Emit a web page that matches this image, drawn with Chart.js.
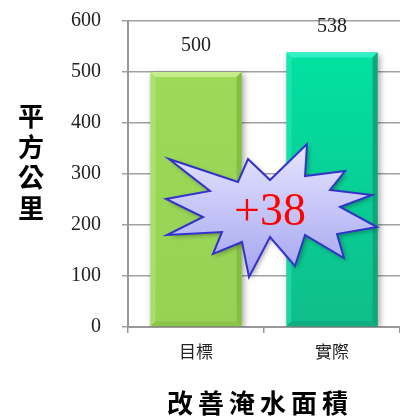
<!DOCTYPE html>
<html>
<head>
<meta charset="utf-8">
<script src="https://cdn.jsdelivr.net/npm/chart.js@4.4.1/dist/chart.umd.min.js"></script>
<style>
  html, body { margin: 0; padding: 0; background: #fff; overflow: hidden; }
  #wrap { width: 400px; height: 429px; margin-top: -12px; }
</style>
</head>
<body>
<div id="wrap"><canvas id="chart"></canvas></div>
<script>
// data
const categories = ['目標', '實際'];
const areaValues = [500, 538];
const yTicks = [0, 100, 200, 300, 400, 500, 600];
const yTitle = ['平', '方', '公', '里'];
const xTitle = '改善淹水面積';
const diffLabel = '+38';

const barColors = [
    { top: '#c4ec8a', mid: '#9edb5a', bottom: '#96d355', edge: '#85bd45' },
    { top: '#30f0c4', mid: '#00e6a4', bottom: '#0fbd8a', edge: '#10a57a' }
];

// explosion shape, offsets from its centre
const starPts = [
    [-101, -52], [-32, -29], [-22, -52], [0, -31], [37, -67], [35, -35],
    [75, -40], [60, -21], [102, -16], [70, -4], [107, 16], [67, 23],
    [74, 47], [35, 24], [25, 55], [0, 26], [-21, 66], [-28, 31],
    [-57, 43], [-48, 21], [-103, 24], [-67, 6], [-104, -12], [-60, -20]
];

const serif = '"Liberation Serif", "DejaVu Serif", serif';
const cjk = '"Noto Sans CJK TC", "Noto Sans CJK SC", sans-serif';

const shadowPlugin = {
    id: 'barShadow',
    beforeDatasetsDraw(chart) {
        const ctx = chart.ctx;
        ctx.save();
        ctx.shadowColor = 'rgba(0,0,0,0.35)';
        ctx.shadowBlur = 6;
        ctx.shadowOffsetX = 2;
        ctx.shadowOffsetY = 2;
    },
    afterDatasetsDraw(chart) {
        const ctx = chart.ctx;
        ctx.restore();
        // bevel highlights on each bar
        const meta = chart.getDatasetMeta(0);
        meta.data.forEach(function (bar, i) {
            const c = barColors[i];
            const left = bar.x - bar.width / 2;
            const right = bar.x + bar.width / 2;
            const top = bar.y;
            const bottom = bar.base;
            const b = 5;
            ctx.save();
            // top bevel
            ctx.fillStyle = c.top;
            ctx.beginPath();
            ctx.moveTo(left, top);
            ctx.lineTo(right, top);
            ctx.lineTo(right - b, top + b);
            ctx.lineTo(left + b, top + b);
            ctx.closePath();
            ctx.fill();
            // right bevel
            ctx.fillStyle = c.edge;
            ctx.beginPath();
            ctx.moveTo(right, top);
            ctx.lineTo(right, bottom);
            ctx.lineTo(right - b, bottom - b);
            ctx.lineTo(right - b, top + b);
            ctx.closePath();
            ctx.fill();
            // left bevel
            ctx.globalAlpha = 0.45;
            ctx.fillStyle = c.top;
            ctx.beginPath();
            ctx.moveTo(left, top);
            ctx.lineTo(left + b, top + b);
            ctx.lineTo(left + b, bottom - b);
            ctx.lineTo(left, bottom);
            ctx.closePath();
            ctx.fill();
            // bottom bevel
            ctx.globalAlpha = 0.6;
            ctx.fillStyle = c.edge;
            ctx.beginPath();
            ctx.moveTo(left, bottom);
            ctx.lineTo(left + b, bottom - b);
            ctx.lineTo(right - b, bottom - b);
            ctx.lineTo(right, bottom);
            ctx.closePath();
            ctx.fill();
            ctx.restore();

            // value label
            ctx.save();
            ctx.font = '20px ' + serif;
            ctx.fillStyle = '#222';
            ctx.textAlign = 'center';
            ctx.textBaseline = 'middle';
            ctx.fillText(String(areaValues[i]), bar.x, bar.y - 26);
            ctx.restore();
        });
    },
    afterDraw(chart) {
        const ctx = chart.ctx;
        const area = chart.chartArea;
        // explosion callout
        const cx = area.left + 142;
        const cy = area.top + 190;
        ctx.save();
        ctx.beginPath();
        starPts.forEach(function (p, k) {
            if (k === 0) ctx.moveTo(cx + p[0], cy + p[1]);
            else ctx.lineTo(cx + p[0], cy + p[1]);
        });
        ctx.closePath();
        const g = ctx.createLinearGradient(0, cy - 67, 0, cy + 66);
        g.addColorStop(0, '#e6e6ff');
        g.addColorStop(1, '#a4a4f0');
        ctx.shadowColor = 'rgba(0,0,0,0.35)';
        ctx.shadowBlur = 5;
        ctx.shadowOffsetX = 2;
        ctx.shadowOffsetY = 2;
        ctx.fillStyle = g;
        ctx.fill();
        ctx.shadowColor = 'transparent';
        ctx.lineWidth = 2;
        ctx.strokeStyle = '#3333cc';
        ctx.lineJoin = 'miter';
        ctx.stroke();
        ctx.font = '46px ' + serif;
        ctx.fillStyle = '#ff0000';
        ctx.textAlign = 'center';
        ctx.textBaseline = 'middle';
        ctx.fillText(diffLabel, cx, cy + 2);
        ctx.restore();

        // axis titles, placed relative to the plot area
        ctx.save();
        ctx.font = 'bold 26px ' + cjk;
        ctx.fillStyle = '#000';
        ctx.textAlign = 'center';
        ctx.textBaseline = 'middle';
        yTitle.forEach(function (ch, k) {
            ctx.fillText(ch, 31, area.top + 95 + k * 30.7);
        });
        ctx.letterSpacing = '5px';
        ctx.fillText(xTitle, 260, area.bottom + 76);
        ctx.restore();
    }
};

const ctx = document.getElementById('chart').getContext('2d');
new Chart(ctx, {
    type: 'bar',
    data: {
        labels: categories,
        datasets: [{
            data: areaValues,
            backgroundColor: function (context) {
                const chart = context.chart;
                const area = chart.chartArea;
                const c = barColors[context.dataIndex];
                if (!area) return c.mid;
                const g = chart.ctx.createLinearGradient(0, area.top, 0, area.bottom);
                g.addColorStop(0, c.mid);
                g.addColorStop(1, c.bottom);
                return g;
            },
            borderWidth: 0,
            barPercentage: 0.67,
            categoryPercentage: 1
        }]
    },
    options: {
        responsive: true,
        maintainAspectRatio: false,
        animation: false,
        events: [],
        layout: { padding: 0 },
        plugins: {
            legend: { display: false },
            tooltip: { enabled: false }
        },
        scales: {
            x: {
                afterFit: function (scale) { scale.height = 90; },
                grid: {
                    drawOnChartArea: false,
                    drawTicks: true,
                    tickLength: 6,
                    color: '#999',
                    lineWidth: 1.5
                },
                border: { display: true, color: '#999', width: 2 },
                ticks: {
                    font: { family: cjk, size: 17 },
                    color: '#222',
                    padding: 8
                }
            },
            y: {
                min: 0,
                max: 600,
                afterFit: function (scale) { scale.width = 128; },
                afterBuildTicks: function (scale) {
                    scale.ticks = yTicks.map(function (v) { return { value: v }; });
                },
                grid: {
                    color: '#a0a0a0',
                    lineWidth: 1.5,
                    tickLength: 6
                },
                border: { display: true, color: '#999', width: 2 },
                ticks: {
                    font: { family: serif, size: 20 },
                    color: '#222',
                    padding: 21
                }
            }
        }
    },
    plugins: [shadowPlugin]
});
</script>
</body>
</html>
